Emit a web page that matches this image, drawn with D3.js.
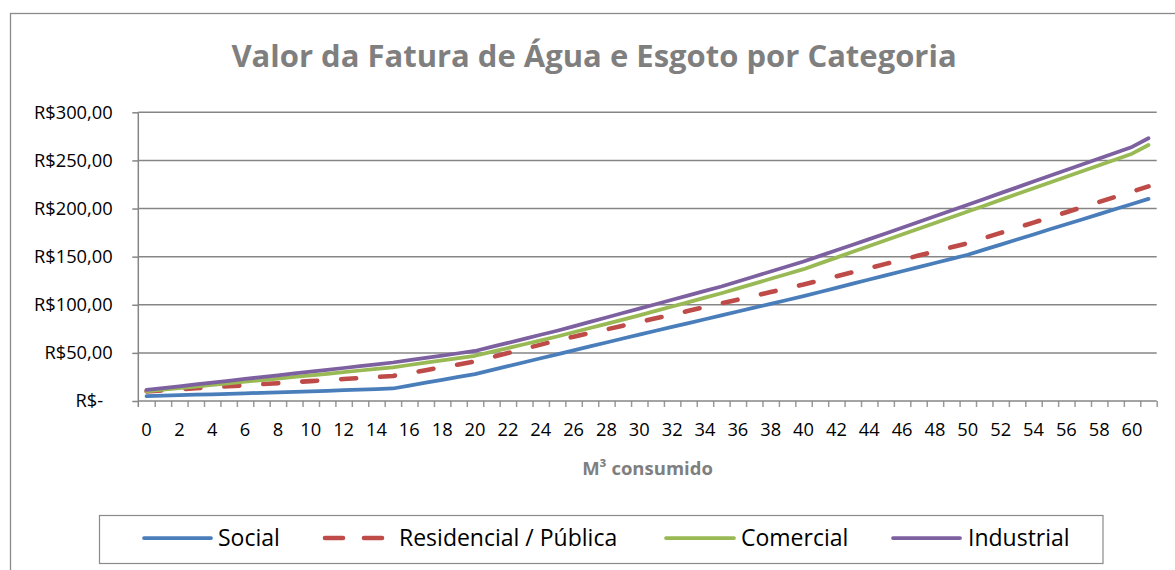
<!DOCTYPE html>
<html><head><meta charset="utf-8">
<script src="https://cdn.jsdelivr.net/npm/d3@7"></script>
<style>body{margin:0;background:#fff}svg{display:block;font-family:"Open Sans",sans-serif}</style>
</head><body><svg id="c" width="1175" height="570"></svg>
<script>
const categories = [0,1,2,3,4,5,6,7,8,9,10,11,12,13,14,15,16,17,18,19,20,21,22,23,24,25,26,27,28,29,30,31,32,33,34,35,36,37,38,39,40,41,42,43,44,45,46,47,48,49,50,51,52,53,54,55,56,57,58,59,60,61];
const social = [5.0,5.5,6.0,6.5,7.0,7.5,8.0,8.5,9.0,9.5,10.0,10.6,11.2,11.8,12.4,13.0,16.0,19.0,22.0,25.0,28.0,32.1,36.2,40.3,44.4,48.5,52.6,56.7,60.8,64.9,69.0,73.0,77.0,81.0,85.0,89.0,93.0,97.0,101.0,105.0,109.0,113.3,117.6,121.9,126.2,130.5,134.8,139.1,143.4,147.7,152.0,157.3,162.5,167.8,173.1,178.4,183.6,188.9,194.2,199.5,204.7,210.0];
const residencial = [10.0,11.1,12.1,13.2,14.3,15.3,16.4,17.5,18.5,19.6,20.7,21.7,22.8,23.9,24.9,26.0,29.0,32.0,35.0,38.0,41.0,45.4,49.8,54.2,58.6,63.0,66.8,70.6,74.4,78.2,82.0,85.9,89.8,93.7,97.6,101.5,105.4,109.3,113.2,117.1,121.0,125.3,129.6,133.9,138.2,142.5,146.8,151.1,155.4,159.7,164.0,169.4,174.7,180.1,185.4,190.8,196.2,201.5,206.9,212.3,217.6,223.0];
const comercial = [10.0,11.7,13.3,15.0,16.7,18.3,20.0,21.7,23.3,25.0,26.7,28.3,30.0,31.7,33.3,35.0,37.4,39.8,42.2,44.6,47.0,51.0,55.0,59.0,63.0,67.0,71.4,75.8,80.2,84.6,89.0,93.6,98.2,102.8,107.4,112.0,117.0,122.0,127.0,132.0,137.0,143.0,149.0,155.0,161.0,167.0,173,179,185,191,197,203,209,215,221,227,233,239,245,251,257,266];
const industrial = [11.5,13.4,15.3,17.2,19.1,21.0,22.9,24.8,26.7,28.6,30.5,32.4,34.3,36.2,38.1,40.0,42.4,44.8,47.2,49.6,52.0,56.2,60.4,64.6,68.8,73.0,77.6,82.2,86.8,91.4,96.0,100.6,105.2,109.8,114.4,119.0,124.2,129.4,134.6,139.8,145.0,150.8,156.6,162.4,168.2,174.0,180,186,192,198,204,210,216,222,228,234,240,246,252,258,264,273];
const seriesNames = ["Social","Residencial / Pública","Comercial","Industrial"];
const xTickLabels = [0,2,4,6,8,10,12,14,16,18,20,22,24,26,28,30,32,34,36,38,40,42,44,46,48,50,52,54,56,58,60];
const yTickValues = [0,50,100,150,200,250,300];
const yTickLabels = ["R$-\u00a0\u00a0","R$50,00","R$100,00","R$150,00","R$200,00","R$250,00","R$300,00"];
const title = "Valor da Fatura de Água e Esgoto por Categoria";
const xTitle = "M³ consumido";

const series = [
  {name: seriesNames[0], values: social, color: "#4A7EBB", dash: null, w: 3.75},
  {name: seriesNames[1], values: residencial, color: "#BE4B48", dash: "15,24", w: 4.6},
  {name: seriesNames[2], values: comercial, color: "#98B954", dash: null, w: 3.75},
  {name: seriesNames[3], values: industrial, color: "#7D60A0", dash: null, w: 3.75}
];

const svg = d3.select("#c");
const L = 138.3, R = 1156.7, T = 112.3, B = 401;
const grid = "#868686";

// chart frame
svg.append("rect").attr("x",10.5).attr("y",13.5).attr("width",1167).attr("height",570)
  .attr("fill","#fff").attr("stroke","#8a8a8a").attr("stroke-width",1.3);

const x = d3.scaleBand().domain(categories).range([L,R]).padding(0);
const xb = d3.scaleLinear().domain([0,categories.length]).range([L,R]);
const y = d3.scaleLinear().domain([0,300]).range([B,T]);

// gridlines
svg.append("g").selectAll("line").data(yTickValues.filter(v=>v>0)).join("line")
  .attr("x1",L).attr("x2",R).attr("y1",d=>y(d)).attr("y2",d=>y(d))
  .attr("stroke",grid).attr("stroke-width",1.5);

// y axis
const yAxis = svg.append("g").attr("transform",`translate(${L},0)`)
  .call(d3.axisLeft(y).tickValues(yTickValues).tickSize(6).tickPadding(19.6)
    .tickFormat((d,i)=>yTickLabels[i]));
yAxis.select(".domain").remove();
yAxis.selectAll(".tick line").attr("stroke",grid).attr("stroke-width",1.5);
yAxis.selectAll("text").attr("font-size",18.3).attr("fill","#000").attr("font-family","Open Sans");
svg.append("line").attr("x1",L).attr("x2",L).attr("y1",T).attr("y2",B+6)
  .attr("stroke",grid).attr("stroke-width",1.5);

// x axis ticks (between categories)
const xTicks = svg.append("g").attr("transform",`translate(0,${B})`)
  .call(d3.axisBottom(xb).tickValues(d3.range(1,categories.length+1)).tickSize(6).tickFormat(""));
xTicks.select(".domain").remove();
xTicks.selectAll(".tick line").attr("stroke","#9a9a9a").attr("stroke-width",1.5);
svg.append("line").attr("x1",L).attr("x2",R).attr("y1",B).attr("y2",B)
  .attr("stroke",grid).attr("stroke-width",1.5);

// x labels
const xLab = svg.append("g").attr("transform",`translate(0,${B})`)
  .call(d3.axisBottom(x).tickValues(xTickLabels).tickSize(0).tickPadding(22.3));
xLab.select(".domain").remove();
xLab.selectAll("text").attr("font-size",18.3).attr("fill","#000").attr("font-family","Open Sans");

// lines
const line = d3.line().x((d,i)=>x(categories[i])+x.bandwidth()/2).y(d=>y(d));
series.forEach(s=>{
  svg.append("path").datum(s.values).attr("d",line)
    .attr("fill","none").attr("stroke",s.color).attr("stroke-width",s.w)
    .attr("stroke-linejoin","round").attr("stroke-linecap","round")
    .attr("stroke-dasharray",s.dash);
});

// title
svg.append("text").attr("x",594).attr("y",67).attr("text-anchor","middle")
  .attr("font-size",31).attr("font-weight","bold").attr("fill","#7f7f7f").text(title);
// axis title
svg.append("text").attr("x",(L+R)/2).attr("y",475).attr("text-anchor","middle")
  .attr("font-size",18.5).attr("font-weight","bold").attr("fill","#7f7f7f").text(xTitle);

// legend
svg.append("rect").attr("x",99.5).attr("y",515.5).attr("width",1003.5).attr("height",48)
  .attr("fill","#fff").attr("stroke","#8a8a8a").attr("stroke-width",1.2);
const legPos = [{x1:144,x2:211,tx:218},{x1:325,x2:382,tx:399},{x1:666,x2:734,tx:741},{x1:893,x2:960,tx:968}];
series.forEach((s,i)=>{
  const p = legPos[i];
  svg.append("line").attr("x1",p.x1).attr("x2",p.x2).attr("y1",538).attr("y2",538)
    .attr("stroke",s.color).attr("stroke-width",s.w).attr("stroke-linecap","round")
    .attr("stroke-dasharray",s.dash ? "18,21" : null);
  svg.append("text").attr("x",p.tx).attr("y",538).attr("dy","0.36em")
    .attr("font-size",23).attr("fill","#000").text(s.name);
});
</script></body></html>
